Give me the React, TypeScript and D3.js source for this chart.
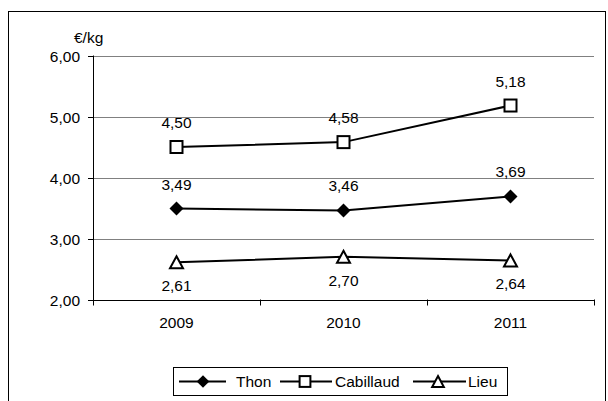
import React from "react";
import * as d3 from "d3";

const years = ["2009", "2010", "2011"];
const thon = [3.49, 3.46, 3.69];
const cabillaud = [4.5, 4.58, 5.18];
const lieu = [2.61, 2.7, 2.64];
const yTicks = [2, 3, 4, 5, 6];
const seriesNames = ["Thon", "Cabillaud", "Lieu"];

const fmt = (v: number) => v.toFixed(2).replace(".", ",");
const FONT = "'Liberation Sans', Arial, sans-serif";
const FS = 15.5;

function Marker({ type, x, y, s = 1 }: { type: string; x: number; y: number; s?: number }) {
  if (type === "diamond") {
    const r = 7 * s;
    return <path d={`M${x},${y - r}L${x + r},${y}L${x},${y + r}L${x - r},${y}Z`} fill="#000" />;
  }
  if (type === "square") {
    const h = 6 * s;
    return <rect x={x - h} y={y - h} width={2 * h} height={2 * h} fill="#fff" stroke="#000" strokeWidth={2} />;
  }
  const w = 6.5 * s;
  return (
    <path
      d={`M${x},${y - 6 * s}L${x + w},${y + 6 * s}L${x - w},${y + 6 * s}Z`}
      fill="#fff"
      stroke="#000"
      strokeWidth={2}
      strokeLinejoin="miter"
    />
  );
}

export default function App() {
  const W = 608, H = 401;
  const left = 93, right = 594, top = 55.5, bottom = 299.5;
  const x = d3.scaleBand().domain(years).range([left, right]);
  const y = d3.scaleLinear().domain([2, 6]).range([bottom, top]);
  const cx = (d: string) => (x(d) as number) + x.bandwidth() / 2;
  const line = d3.line<number>().x((_, i) => cx(years[i])).y((v) => y(v));

  const series = [
    { name: seriesNames[0], data: thon, marker: "diamond", labelPos: "above" },
    { name: seriesNames[1], data: cabillaud, marker: "square", labelPos: "above" },
    { name: seriesNames[2], data: lieu, marker: "triangle", labelPos: "below" },
  ];

  const legendItems = [
    { x0: 179, x1: 226, mx: 203, tx: 236, marker: "diamond", name: seriesNames[0] },
    { x0: 280, x1: 332, mx: 305, tx: 335, marker: "square", name: seriesNames[1] },
    { x0: 413, x1: 466, mx: 438, tx: 468, marker: "triangle", name: seriesNames[2] },
  ];
  const ly = 381.5;

  return (
    <svg width={W} height={H} style={{ position: "absolute", left: 0, top: 0 }} fontFamily={FONT}>
      <rect x={0} y={0} width={W} height={H} fill="#fff" />
      <rect x={8.5} y={11.5} width={597} height={400} fill="#fff" stroke="#000" strokeWidth={1} />
      {/* gridlines */}
      {yTicks.map((t) => (
        <line key={t} x1={left} x2={right} y1={Math.round(y(t)) + 0.5} y2={Math.round(y(t)) + 0.5} stroke="#808080" strokeWidth={1} />
      ))}
      {/* y axis */}
      <line x1={left + 0.5} x2={left + 0.5} y1={top} y2={bottom + 0.5} stroke="#000" />
      {yTicks.map((t) => (
        <g key={"yt" + t}>
          <line x1={left - 5} x2={left} y1={Math.round(y(t)) + 0.5} y2={Math.round(y(t)) + 0.5} stroke="#000" />
          <text x={80} y={y(t) + 6.5} textAnchor="end" fontSize={FS} fill="#000">
            {fmt(t)}
          </text>
        </g>
      ))}
      <text x={74} y={43} fontSize={FS} fill="#000">€/kg</text>
      {/* x axis */}
      <line x1={left} x2={right} y1={Math.round(bottom) + 0.5} y2={Math.round(bottom) + 0.5} stroke="#000" />
      {[...years.map((d) => x(d) as number), right].map((px, i) => (
        <line key={"xt" + i} x1={Math.round(px) + 0.5} x2={Math.round(px) + 0.5} y1={bottom} y2={bottom + 6} stroke="#000" />
      ))}
      {years.map((d) => (
        <text key={"xl" + d} x={cx(d)} y={328} textAnchor="middle" fontSize={FS} fill="#000">
          {d}
        </text>
      ))}
      {/* series */}
      {series.map((s) => (
        <g key={s.name}>
          <path d={line(s.data) || ""} fill="none" stroke="#000" strokeWidth={2} />
          {s.data.map((v, i) => (
            <Marker key={i} type={s.marker} x={cx(years[i])} y={y(v)} />
          ))}
          {s.data.map((v, i) => (
            <text
              key={"l" + i}
              x={cx(years[i])}
              y={s.labelPos === "above" ? y(v) - 19 : y(v) + 29}
              textAnchor="middle"
              fontSize={FS}
              fill="#000"
            >
              {fmt(v)}
            </text>
          ))}
        </g>
      ))}
      {/* legend */}
      <rect x={173.5} y={367.5} width={334} height={28} fill="#fff" stroke="#000" />
      {legendItems.map((it) => (
        <g key={"lg" + it.name}>
          <line x1={it.x0} x2={it.x1} y1={ly} y2={ly} stroke="#000" strokeWidth={2} />
          <Marker type={it.marker} x={it.mx} y={ly} s={0.9} />
          <text x={it.tx} y={ly + 5.5} fontSize={FS} fill="#000">
            {it.name}
          </text>
        </g>
      ))}
    </svg>
  );
}
